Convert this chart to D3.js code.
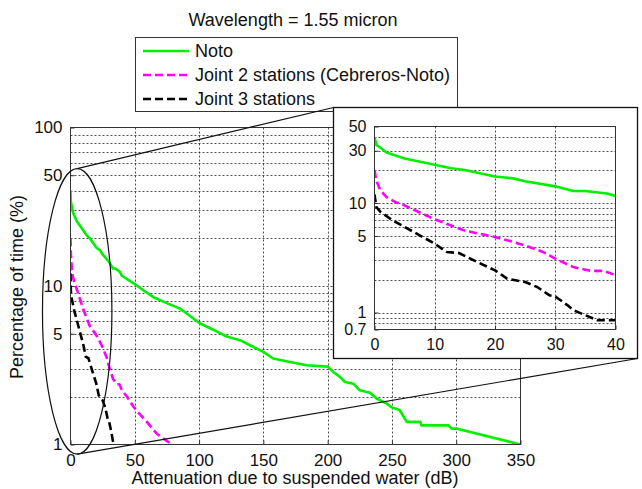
<!DOCTYPE html>
<html><head><meta charset="utf-8">
<script src="https://cdn.jsdelivr.net/npm/d3@7"></script>
<style>
body{margin:0;background:#fff}
text{font-family:"Liberation Sans",Arial,sans-serif;fill:#111}
</style>
</head><body>
<svg id="chart" width="642" height="489"></svg>
<script>
// ---- data ----
const notoX = [0, 0.3, 1, 2, 5, 10, 12.7, 15, 20, 23, 25, 30, 33, 35, 38.6, 40, 49, 56.7, 64.5, 74.9, 85.2, 90.4, 100.8, 111.1, 121.5, 131.9, 139.6, 150, 157.7, 170.7, 183.7, 200, 204.4, 209.6, 213.5, 220, 225, 233, 238, 246, 250, 256, 261.5, 272, 273, 294, 296.4, 300, 350];
const notoY = [40, 34, 32, 29, 25.5, 22.4, 20.8, 20, 17.5, 16.8, 15.8, 14.2, 12.9, 12.9, 12.2, 11.6, 10.4, 9.4, 8.5, 7.8, 7.2, 6.7, 5.8, 5.3, 4.8, 4.55, 4.23, 3.84, 3.49, 3.32, 3.16, 3.1, 2.87, 2.67, 2.48, 2.42, 2.2, 2.12, 1.95, 1.81, 1.71, 1.65, 1.39, 1.39, 1.32, 1.32, 1.26, 1.26, 1.0];
const joint2X = [0, 0.3, 1, 2, 3.5, 5, 7.5, 10, 12.5, 15, 17, 20, 22.5, 25, 28, 30, 33, 36, 38, 40, 44, 49, 54, 59.4, 63, 67.1, 72.3, 76, 80];
const joint2Y = [20, 16, 13, 11.3, 10.2, 9.5, 8.2, 7.1, 6.3, 5.6, 5.3, 4.9, 4.5, 4.1, 3.57, 3.1, 2.6, 2.4, 2.4, 2.2, 2.0, 1.73, 1.55, 1.39, 1.28, 1.17, 1.09, 1.04, 1.0];
const joint3X = [0, 0.3, 1, 3, 5, 8, 10, 12, 14, 17, 20, 22, 25, 27, 29, 30, 32, 33, 35, 37, 40];
const joint3Y = [12, 9.2, 8.3, 6.95, 6.04, 4.9, 4.25, 3.57, 3.5, 2.9, 2.43, 2.04, 1.9, 1.71, 1.44, 1.4, 1.17, 1.05, 0.945, 0.85, 0.85];

const seriesNames = ["Noto", "Joint 2 stations (Cebreros-Noto)", "Joint 3 stations"];
const mainXTicks = [0, 50, 100, 150, 200, 250, 300, 350];
const mainYTicks = [1, 5, 10, 50, 100];
const mainYGrid = [2, 3, 4, 5, 6, 7, 8, 9, 10, 20, 30, 40, 50, 60, 70, 80, 90];
const insetXTicks = [0, 10, 20, 30, 40];
const insetYTicks = [0.7, 1, 5, 10, 30, 50];
const insetYGrid = [0.8, 0.9, 1, 2, 3, 4, 5, 6, 7, 8, 9, 10, 20, 30, 40];
const titleText = "Wavelength = 1.55 micron";
const xLabel = "Attenuation due to suspended water (dB)";
const yLabel = "Percentage of time (%)";

// ---- styles ----
const colors = ["#00f000", "#ff00ff", "#000000"];
const dashes = [null, "8,4", "8,4"];

const svg = d3.select("#chart");
const series = [
  notoX.map((x, i) => [x, notoY[i]]),
  joint2X.map((x, i) => [x, joint2Y[i]]),
  joint3X.map((x, i) => [x, joint3Y[i]])
];

function drawAxes(g, id, x, y, xTicks, yTicks, xGrid, yGrid, yFmt, fs) {
  const [x0, x1] = x.range(), [y0, y1] = y.range();
  g.append("clipPath").attr("id", id).append("rect")
    .attr("x", x0).attr("y", y1).attr("width", x1 - x0).attr("height", y0 - y1);
  const grid = g.append("g").attr("stroke", "#222").attr("stroke-width", 0.8)
    .attr("stroke-dasharray", "2,2");
  grid.selectAll(".vx").data(xGrid).join("line")
    .attr("x1", d => Math.round(x(d)) + 0.5).attr("x2", d => Math.round(x(d)) + 0.5)
    .attr("y1", y1).attr("y2", y0);
  grid.selectAll(".hy").data(yGrid).join("line")
    .attr("y1", d => Math.round(y(d)) + 0.5).attr("y2", d => Math.round(y(d)) + 0.5)
    .attr("x1", x0).attr("x2", x1);
  const ax = g.append("g").attr("transform", `translate(0,${y0})`)
    .call(d3.axisBottom(x).tickValues(xTicks).tickSizeInner(-4).tickSizeOuter(0).tickPadding(9).tickFormat(d3.format("d")));
  const ay = g.append("g").attr("transform", `translate(${x0},0)`)
    .call(d3.axisLeft(y).tickValues(yTicks).tickSizeInner(-4).tickSizeOuter(0).tickPadding(8).tickFormat(yFmt));
  [ax, ay].forEach(a => {
    a.select(".domain").remove();
    a.selectAll("line").attr("stroke", "#333");
    a.selectAll("text").attr("font-size", fs).attr("fill", "#111")
      .style("font-family", '"Liberation Sans", Arial, sans-serif');
  });
  const lines = g.append("g").attr("clip-path", `url(#${id})`);
  const line = d3.line().x(d => x(d[0])).y(d => y(d[1]));
  series.forEach((s, i) => {
    lines.append("path").datum(s).attr("d", line).attr("fill", "none")
      .attr("stroke", colors[i]).attr("stroke-width", 2.6)
      .attr("stroke-dasharray", dashes[i]).attr("stroke-linejoin", "round");
  });
  g.append("rect").attr("x", x0).attr("y", y1).attr("width", x1 - x0).attr("height", y0 - y1)
    .attr("fill", "none").attr("stroke", "#333").attr("stroke-width", 1);
}

// ---- main axes ----
const mx = d3.scaleLinear().domain([0, 350]).range([70.5, 520.5]);
const my = d3.scaleLog().domain([1, 100]).range([444.5, 127.5]);
const mainG = svg.append("g");
drawAxes(mainG, "clipMain", mx, my, mainXTicks, mainYTicks,
  mainXTicks.slice(1, -1), mainYGrid, d3.format("d"), 17);

// title
svg.append("text").attr("x", 293).attr("y", 26).attr("text-anchor", "middle")
  .attr("font-size", 18).text(titleText);
// axis labels
svg.append("text").attr("x", 295).attr("y", 484).attr("text-anchor", "middle")
  .attr("font-size", 18).text(xLabel);
svg.append("text").attr("transform", "translate(23,287) rotate(-90)")
  .attr("text-anchor", "middle").attr("font-size", 18).text(yLabel);

// zoom ellipse (in data units of main axes)
const ellCx = 5.2, ellHalfW = 27, ellTop = 55, ellBottom = 0.87;
const eTop = my(ellTop), eBot = my(ellBottom);
svg.append("ellipse").attr("cx", mx(ellCx)).attr("cy", (eTop + eBot) / 2)
  .attr("rx", mx(ellCx + ellHalfW) - mx(ellCx)).attr("ry", (eBot - eTop) / 2)
  .attr("fill", "none").attr("stroke", "#111").attr("stroke-width", 1.2);

// legend
const lg = svg.append("g");
lg.append("rect").attr("x", 135.5).attr("y", 37.5).attr("width", 322).attr("height", 74)
  .attr("fill", "#fff").attr("stroke", "#333");
seriesNames.forEach((n, i) => {
  const yy = 51 + i * 24;
  lg.append("line").attr("x1", 143).attr("x2", 189).attr("y1", yy).attr("y2", yy)
    .attr("stroke", colors[i]).attr("stroke-width", 2.6).attr("stroke-dasharray", dashes[i]);
  lg.append("text").attr("x", 195).attr("y", yy + 6).attr("font-size", 18).text(n);
});

// inset frame
const box = {x0: 333.5, y0: 107.5, x1: 637.5, y1: 358.5};
svg.append("line").attr("x1", mx(ellCx)).attr("y1", eTop).attr("x2", box.x0).attr("y2", box.y0)
  .attr("stroke", "#111").attr("stroke-width", 1.2);
svg.append("line").attr("x1", mx(ellCx)).attr("y1", eBot).attr("x2", box.x1).attr("y2", box.y1)
  .attr("stroke", "#111").attr("stroke-width", 1.2);

svg.append("rect").attr("x", box.x0).attr("y", box.y0).attr("width", box.x1 - box.x0)
  .attr("height", box.y1 - box.y0).attr("fill", "#fff").attr("stroke", "#111").attr("stroke-width", 1.3);

const ix = d3.scaleLinear().domain([0, 40]).range([374.5, 615.5]);
const iy = d3.scaleLog().domain([0.7, 50]).range([329.5, 126.5]);
const insetG = svg.append("g");
drawAxes(insetG, "clipInset", ix, iy, insetXTicks, insetYTicks,
  insetXTicks.slice(1, -1), insetYGrid, d => d < 1 ? d3.format(".1f")(d) : d3.format("d")(d), 16);
</script>
</body></html>
